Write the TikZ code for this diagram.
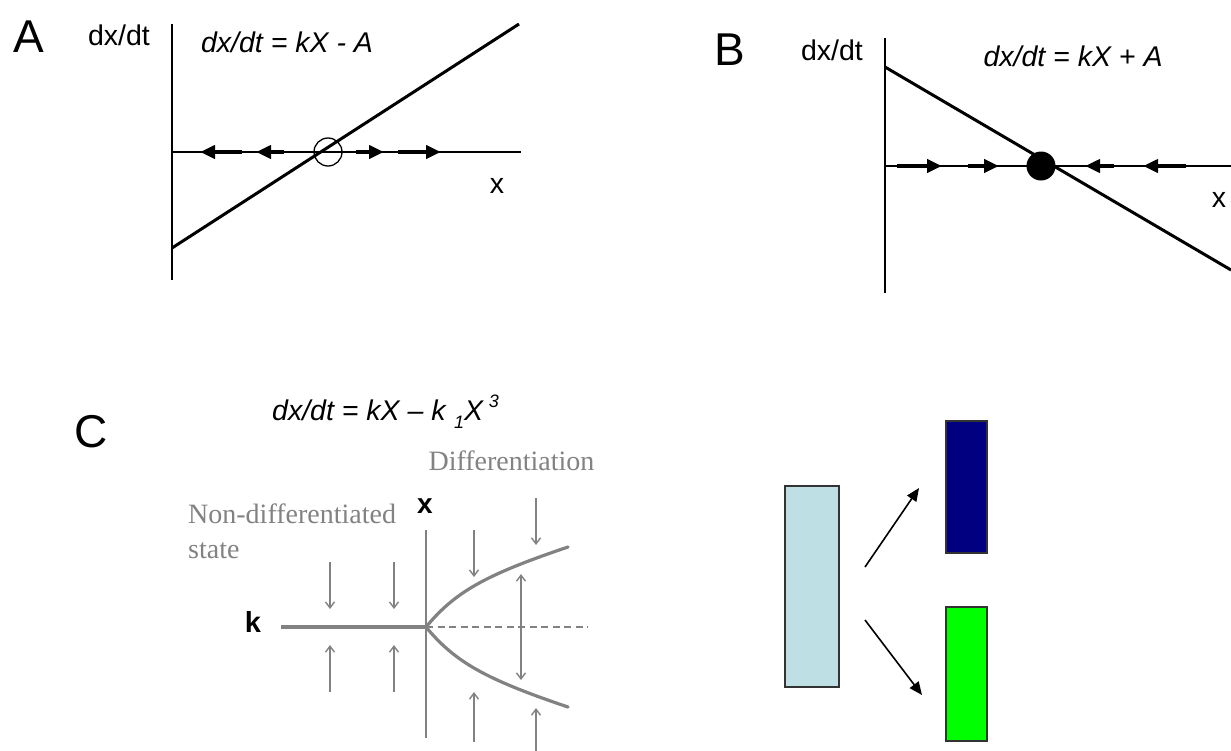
\documentclass[tikz,border=0pt]{standalone}
\usepackage{fontspec}
\setmainfont{Liberation Sans}
\newfontfamily\serifgray{Liberation Serif}
\usetikzlibrary{arrows.meta}
\definecolor{lightcell}{RGB}{190,224,228}
\definecolor{navycell}{RGB}{0,0,128}
\definecolor{greencell}{RGB}{0,255,0}
\definecolor{pgray}{RGB}{130,130,130}
\tikzset{
  lbl/.style={inner sep=0pt, anchor=base},
  plab/.style={lbl, font=\fontsize{46}{50}\selectfont},
  axlab/.style={lbl, font=\fontsize{28.5}{32}\selectfont},
  eqn/.style={lbl, font=\fontsize{28.5}{32}\selectfont\itshape},
  axis/.style={line width=1.8pt, black},
  curve/.style={line width=3pt, black},
  flow/.style={line width=4pt, -{Triangle[length=15pt,width=13pt]}},
  graytext/.style={lbl, text=pgray, font=\fontsize{28}{32}\serifgray},
  grayarr/.style={pgray, line width=1.4pt, -{Straight Barb[length=6pt,width=9pt,line width=1.4pt]}},
  grayarrboth/.style={pgray, line width=1.4pt, {Straight Barb[length=6pt,width=9pt,line width=1.4pt]}-{Straight Barb[length=6pt,width=9pt,line width=1.4pt]}},
  branch/.style={pgray, line width=3.2pt},
  cell/.style={draw=black!80, line width=1.2pt},
  diffarr/.style={line width=1.6pt, -{Triangle[length=13pt,width=11pt]}}
}
\begin{document}
\begin{tikzpicture}[x=1pt,y=-1pt]
\useasboundingbox (0,0) rectangle (1231,750);
\fill[white] (0,0) rectangle (1231,750);

% ---------- Panel A ----------
\node[plab] (labA) at (28.5,52) {A};
\node[axlab] (ayA) at (119,45) {dx/dt};
\node[eqn] (eqA) at (287,52) {dx/dt = kX - A};
\node[axlab] (axA) at (497,193) {x};
\coordinate (A0) at (172,152);
\coordinate (Atop) at (172,24);
\coordinate (Abot) at (172,280);
\coordinate (Aright) at (521,152);
\coordinate (AL1) at (172,248);
\coordinate (AL2) at (519,24);
\draw[axis] (Atop) -- (Abot);
\draw[axis] (A0) -- (Aright);
\draw[curve] (AL1) -- (AL2);
\node[draw, circle, line width=1.3pt, minimum size=28pt, inner sep=0pt] (unstable) at (328,152) {};
\coordinate (a1s) at (242,152); \coordinate (a1e) at (200,152);
\coordinate (a2s) at (284,152); \coordinate (a2e) at (256,152);
\coordinate (a3s) at (356,152); \coordinate (a3e) at (384,152);
\coordinate (a4s) at (398,152); \coordinate (a4e) at (441,152);
\draw[flow] (a1s) -- (a1e);
\draw[flow] (a2s) -- (a2e);
\draw[flow] (a3s) -- (a3e);
\draw[flow] (a4s) -- (a4e);

% ---------- Panel B ----------
\node[plab] (labB) at (730,65) {B};
\node[axlab] (ayB) at (832,60) {dx/dt};
\node[eqn] (eqB) at (1073,66) {dx/dt = kX + A};
\node[axlab] (axB) at (1219,207) {x};
\coordinate (B0) at (885,166);
\coordinate (Btop) at (885,38);
\coordinate (Bbot) at (885,293);
\coordinate (Bright) at (1231,166);
\coordinate (BL1) at (885,67);
\coordinate (BL2) at (1231,270);
\draw[axis] (Btop) -- (Bbot);
\draw[axis] (B0) -- (Bright);
\draw[curve] (BL1) -- (BL2);
\node[fill=black, circle, minimum size=29pt, inner sep=0pt] (stable) at (1041,166) {};
\coordinate (b1s) at (897,166); \coordinate (b1e) at (942,166);
\coordinate (b2s) at (968,166); \coordinate (b2e) at (999,166);
\coordinate (b3s) at (1114,166); \coordinate (b3e) at (1085,166);
\coordinate (b4s) at (1186,166); \coordinate (b4e) at (1143,166);
\draw[flow] (b1s) -- (b1e);
\draw[flow] (b2s) -- (b2e);
\draw[flow] (b3s) -- (b3e);
\draw[flow] (b4s) -- (b4e);

% ---------- Panel C ----------
\node[plab] (labC) at (91,447) {C};
\node[eqn, anchor=base west] (eqC) at (272,420) {dx/dt = kX \textendash\ k\hspace{0.3em}\raisebox{-0.3em}{\fontsize{18}{20}\selectfont 1}X\hspace{0.2em}\raisebox{0.45em}{\fontsize{18}{20}\selectfont 3}};
\node[graytext] (diff) at (511.5,470) {Differentiation};
\node[graytext, anchor=base west] (nondiff) at (188,523) {Non-differentiated};
\node[graytext, anchor=base west] (state) at (188,558) {state};
\node[lbl, font=\fontsize{28}{30}\selectfont\bfseries] (xC) at (425,513) {x};
\node[lbl, font=\fontsize{29}{32}\selectfont\bfseries] (kC) at (253,632) {k};

\coordinate (O) at (426,627);
\coordinate (Vtop) at (426,530);
\coordinate (Vbot) at (426,738);
\coordinate (Kl) at (281,627);
\coordinate (Dr) at (588,627);
\coordinate (Up) at (568,547);
\coordinate (Dn) at (568,707);
\draw[pgray, line width=1.5pt] (Vtop) -- (Vbot);
\draw[pgray, line width=1.3pt, dash pattern=on 7pt off 4.5pt] (O) -- (Dr);
\draw[branch] (Kl) -- (O);
\draw[branch, line cap=round] (O) .. controls (455,592) and (485,575) .. (Up);
\draw[branch, line cap=round] (O) .. controls (455,662) and (485,679) .. (Dn);

\coordinate (c1s) at (330,562); \coordinate (c1e) at (330,609);
\coordinate (c2s) at (394,562); \coordinate (c2e) at (394,609);
\coordinate (c3s) at (330,692); \coordinate (c3e) at (330,645);
\coordinate (c4s) at (394,692); \coordinate (c4e) at (394,645);
\coordinate (c5s) at (474,530); \coordinate (c5e) at (474,577);
\coordinate (c6s) at (536,498); \coordinate (c6e) at (536,545);
\coordinate (c7s) at (521,574); \coordinate (c7e) at (521,680);
\coordinate (c8s) at (474,742); \coordinate (c8e) at (474,692);
\coordinate (c9s) at (536,752); \coordinate (c9e) at (536,708);
\draw[grayarr] (c1s) -- (c1e);
\draw[grayarr] (c2s) -- (c2e);
\draw[grayarr] (c3s) -- (c3e);
\draw[grayarr] (c4s) -- (c4e);
\draw[grayarr] (c5s) -- (c5e);
\draw[grayarr] (c6s) -- (c6e);
\draw[grayarrboth] (c7s) -- (c7e);
\draw[grayarr] (c8s) -- (c8e);
\draw[grayarr] (c9s) -- (c9e);

% ---------- Cells ----------
\node[cell, fill=lightcell, minimum width=54pt, minimum height=201pt, inner sep=0pt] (stem) at (812,586.5) {};
\node[cell, fill=navycell, minimum width=41pt, minimum height=132pt, inner sep=0pt] (cellA) at (966.5,487) {};
\node[cell, fill=greencell, minimum width=41pt, minimum height=134pt, inner sep=0pt] (cellB) at (966.5,674) {};
\coordinate (u1) at (865,567); \coordinate (u2) at (919,488);
\coordinate (d1) at (865,620); \coordinate (d2) at (922,695);
\draw[diffarr] (u1) -- (u2);
\draw[diffarr] (d1) -- (d2);
\end{tikzpicture}
\end{document}
